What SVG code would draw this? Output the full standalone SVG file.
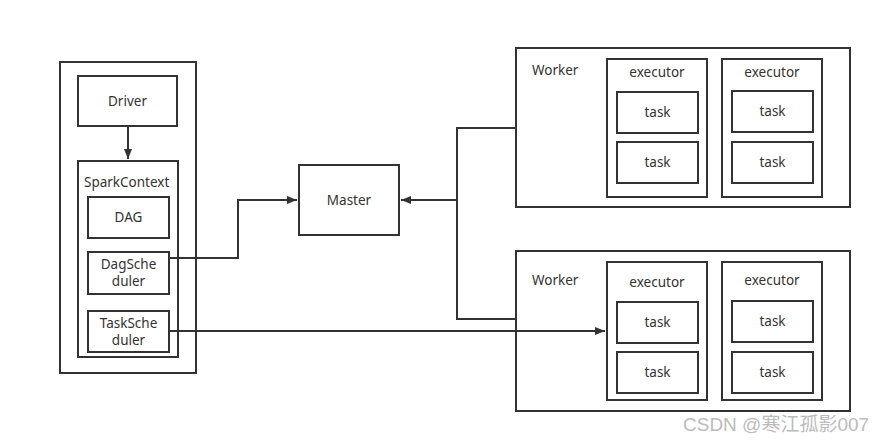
<svg xmlns="http://www.w3.org/2000/svg" width="884" height="443" viewBox="0 0 884 443">
<defs>
<marker id="arr" markerWidth="10" markerHeight="8" refX="10" refY="4" orient="auto" markerUnits="userSpaceOnUse">
<path d="M0,0 L10,4 L0,8 Z" fill="#333"/>
</marker>
<style>
rect{fill:#fff;stroke:#333;stroke-width:2}
text{font-family:"Noto Sans","Open Sans",sans-serif;font-size:13.5px;fill:#333}
.c{text-anchor:middle}
.ln{fill:none;stroke:#333;stroke-width:2}
</style>
</defs>
<rect x="0" y="0" width="884" height="443" style="stroke:none"/>
<g id="driverside">
<rect x="60" y="62" width="136" height="311"/>
</g>
<g id="driver"><rect x="78" y="76" width="99" height="50"/><text class="c" x="127.5" y="106">Driver</text></g>
<g id="sparkcontext"><rect x="78" y="161" width="100" height="196"/><text x="84" y="187">SparkContext</text></g>
<g id="dag"><rect x="88" y="197" width="81" height="41"/><text class="c" x="128.5" y="222">DAG</text></g>
<g id="dagscheduler"><rect x="88" y="252" width="81" height="42"/><text class="c" x="128.5" y="269">DagSche</text><text class="c" x="128.5" y="286">duler</text></g>
<g id="taskscheduler"><rect x="88" y="311" width="81" height="41"/><text class="c" x="128.5" y="328">TaskSche</text><text class="c" x="128.5" y="345">duler</text></g>
<g id="master"><rect x="299" y="165" width="100" height="70"/><text class="c" x="349" y="205">Master</text></g>
<g id="worker1">
<rect x="516" y="48" width="334" height="159"/><text x="532" y="75">Worker</text>
<rect x="607" y="59" width="100" height="138"/><text class="c" x="657" y="77">executor</text>
<rect x="617" y="92" width="81" height="41"/><text class="c" x="657.5" y="117">task</text>
<rect x="617" y="142" width="81" height="41"/><text class="c" x="657.5" y="167">task</text>
<rect x="722" y="59" width="100" height="138"/><text class="c" x="772" y="77">executor</text>
<rect x="732" y="91" width="81" height="41"/><text class="c" x="772.5" y="116">task</text>
<rect x="732" y="142" width="81" height="41"/><text class="c" x="772.5" y="167">task</text>
</g>
<g id="worker2">
<rect x="516" y="251" width="334" height="160"/><text x="532" y="285">Worker</text>
<rect x="607" y="262" width="100" height="138"/><text class="c" x="657" y="287">executor</text>
<rect x="617" y="302" width="81" height="41"/><text class="c" x="657.5" y="327">task</text>
<rect x="617" y="352" width="81" height="41"/><text class="c" x="657.5" y="377">task</text>
<rect x="722" y="262" width="100" height="138"/><text class="c" x="772" y="285">executor</text>
<rect x="732" y="301" width="81" height="41"/><text class="c" x="772.5" y="326">task</text>
<rect x="732" y="352" width="81" height="41"/><text class="c" x="772.5" y="377">task</text>
</g>
<g id="connectors">
<path class="ln" d="M128,126 V159" marker-end="url(#arr)"/>
<path class="ln" d="M169,258 H238 V200 H297" marker-end="url(#arr)"/>
<path class="ln" d="M516,128 H457 V319 H516"/>
<path class="ln" d="M457,200 H401" marker-end="url(#arr)"/>
<path class="ln" d="M169,331 H605" marker-end="url(#arr)"/>
</g>
<text x="683" y="431" style="font-family:'Liberation Sans','Noto Sans CJK SC',sans-serif;font-size:19px;fill:#bbb">CSDN @寒江孤影007</text>
</svg>
